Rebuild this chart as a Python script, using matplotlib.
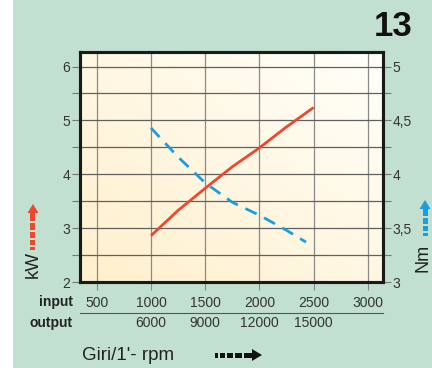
import numpy as np
import matplotlib
matplotlib.use("Agg")
import matplotlib.pyplot as plt
from matplotlib.patches import Rectangle, Polygon

plt.rcParams['font.family'] = ['Liberation Sans', 'DejaVu Sans']

# ---- data ----
rpm_in = [500, 1000, 1500, 2000, 2500, 3000]
rpm_out = ['', '6000', '9000', '12000', '15000', '']
kw_rpm = [1000, 1250, 1500, 1750, 2000, 2250, 2500]
kw_val = [2.86, 3.33, 3.74, 4.14, 4.49, 4.88, 5.24]
nm_rpm = [1000, 1250, 1500, 1750, 2000, 2250, 2430]
nm_val = [4.43, 4.16, 3.92, 3.74, 3.62, 3.48, 3.37]
kw_ticks = [2, 3, 4, 5, 6]
nm_ticks = [3, 3.5, 4, 4.5, 5]
nm_labels = ['3', '3,5', '4', '4,5', '5']

W, H = 432, 368
BG = '#c2e0d0'
RED = '#f0462c'
BLUE = '#1a9ee0'

fig = plt.figure(figsize=(W / 100, H / 100), dpi=100)
fig.patch.set_facecolor(BG)

def px(x, y):
    # pixel coords (top-left origin) -> figure fraction
    return x / W, 1 - y / H

# white strip on the left
fig.add_artist(Rectangle((0, 0), 13 / W, 1, transform=fig.transFigure,
                         facecolor='white', edgecolor='none'))

ax = fig.add_axes([80 / W, 1 - 282 / H, 303 / W, 230 / H])
ax.set_xlim(345, 3140)
ax.set_ylim(2, 6.27)

# cream gradient background
gx = np.linspace(0, 1, 60)
gy = np.linspace(0, 1, 60)
GX, GY = np.meshgrid(gx, gy)
t = np.clip((GX + GY) / 2, 0, 1)
c0 = np.array([1.0, 0.94, 0.80])
c1 = np.array([1.0, 1.0, 0.98])
img = c0[None, None, :] * (1 - t[..., None]) + c1[None, None, :] * t[..., None]
ax.imshow(img, extent=(345, 3140, 2, 6.27), origin='lower', aspect='auto', zorder=0)

for xv in rpm_in:
    ax.axvline(xv, color='#8a8a8a', lw=0.9, zorder=1)
for yv in np.arange(2, 6.01, 0.5):
    ax.axhline(yv, color='#606060', lw=0.9, zorder=1)

ax.plot(kw_rpm, kw_val, color=RED, lw=2.0, zorder=3, solid_capstyle='butt')

ax2 = ax.twinx()
ax2.set_ylim(3, 3 + 4.27 / 2)
ax2.plot(nm_rpm, nm_val, color=BLUE, lw=2.0, dashes=(4.5, 3), zorder=3)

for a in (ax, ax2):
    for s in a.spines.values():
        s.set_linewidth(2.2)
        s.set_color('#1a1a1a')

ax.set_yticks(kw_ticks)
ax.set_yticks(np.arange(2, 6.01, 0.5), minor=True)
ax.tick_params(axis='y', which='both', direction='out', length=6, width=0.8,
               color='#777777', labelsize=10, labelcolor='#333333', pad=1)
ax.set_xticks(rpm_in)
ax.set_xticklabels([])
ax.tick_params(axis='x', direction='out', length=6, width=0.8, color='#888888')

ax2.set_yticks(nm_ticks)
ax2.set_yticklabels(nm_labels)
ax2.set_yticks(np.arange(3, 5.01, 0.25), minor=True)
ax2.tick_params(axis='y', which='both', direction='out', length=6, width=0.8,
                color='#777777', labelsize=10, labelcolor='#333333', pad=1)

# input / output rows
for xv, lo in zip(rpm_in, rpm_out):
    ax.text(xv, -0.09, str(xv), transform=ax.get_xaxis_transform(),
            ha='center', va='center', fontsize=10, color='#333333')
    if lo:
        ax.text(xv, -0.18, lo, transform=ax.get_xaxis_transform(),
                ha='center', va='center', fontsize=10, color='#333333')
fx, fy = px(73, 302)
fig.text(fx, fy, 'input', ha='right', va='center', fontsize=10, fontweight='bold', color='#222222')
fx, fy = px(73, 323)
fig.text(fx, fy, 'output', ha='right', va='center', fontsize=10, fontweight='bold', color='#222222')
x0, y0 = px(80, 313)
x1, _ = px(383, 313)
fig.add_artist(plt.Line2D([x0, x1], [y0, y0], transform=fig.transFigure, color='#555555', lw=0.8))

fx, fy = px(82, 356)
fig.text(fx, fy, "Giri/1'- rpm", ha='left', va='center', fontsize=13.5, color='#222222')

fx, fy = px(393, 27)
fig.text(fx, fy, '13', ha='center', va='center', fontsize=25, fontweight='heavy', color='#111111')

fx, fy = px(33, 264)
fig.text(fx, fy, 'kW', ha='center', va='center', rotation=90, fontsize=13.5, color='#222222')
fx, fy = px(423, 258)
fig.text(fx, fy, 'Nm', ha='center', va='center', rotation=90, fontsize=13, color='#222222')


def dashed_arrow(tip, segs, width, head_w, head_l, color, vertical=True):
    # tip in pixels; segs = list of (start, length) along shaft measured from head base
    for s0, sl in segs:
        if vertical:
            x, y = px(tip[0] - width / 2, tip[1] + head_l + s0 + sl)
            r = Rectangle((x, y), width / W, sl / H, transform=fig.transFigure,
                          facecolor=color, edgecolor='none')
        else:
            x, y = px(tip[0] - head_l - s0 - sl, tip[1] + width / 2)
            r = Rectangle((x, y), sl / W, width / H, transform=fig.transFigure,
                          facecolor=color, edgecolor='none')
        fig.add_artist(r)
    if vertical:
        pts = [px(tip[0], tip[1]), px(tip[0] - head_w / 2, tip[1] + head_l),
               px(tip[0] + head_w / 2, tip[1] + head_l)]
    else:
        pts = [px(tip[0], tip[1]), px(tip[0] - head_l, tip[1] - head_w / 2),
               px(tip[0] - head_l, tip[1] + head_w / 2)]
    fig.add_artist(Polygon(pts, closed=True, transform=fig.transFigure,
                           facecolor=color, edgecolor='none'))


dashed_arrow((33, 204), [(0, 8), (10, 7), (19, 6), (27, 5), (34, 3)], 5, 11, 9, RED)
dashed_arrow((425, 200), [(0, 7), (9, 6), (17, 5), (24, 3)], 5, 11, 9, BLUE)
dashed_arrow((262, 355), [(0, 8), (10, 7), (19, 6), (27, 5), (34, 3)], 5, 12, 10, '#111111', vertical=False)

fig.savefig('out.png', dpi=100, facecolor=fig.get_facecolor())
